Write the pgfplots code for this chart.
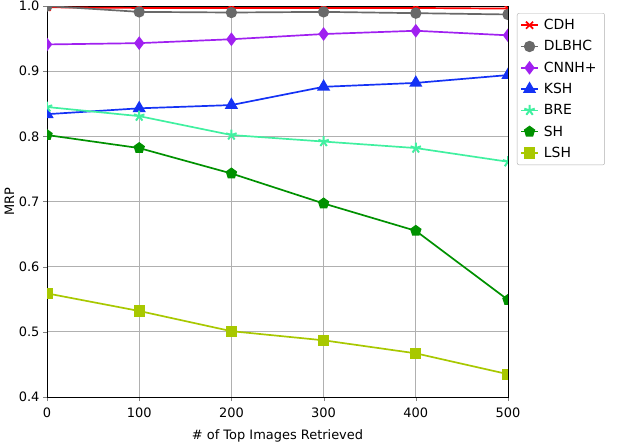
\documentclass[border=0pt]{standalone}
\usepackage{fontspec}
\setmainfont{DejaVu Sans}
\usepackage{pgfplots}
\pgfplotsset{compat=1.18}
\definecolor{cdh}{RGB}{255,0,0}
\definecolor{dlbhc}{RGB}{105,105,105}
\definecolor{cnnh}{RGB}{160,32,240}
\definecolor{ksh}{RGB}{20,50,245}
\definecolor{bre}{RGB}{64,240,160}
\definecolor{sh}{RGB}{0,145,0}
\definecolor{lsh}{RGB}{168,200,0}
\definecolor{gridc}{RGB}{176,176,176}
\begin{document}
\begin{tikzpicture}
\useasboundingbox (0,0) rectangle (629bp,444bp);
\begin{axis}[
  at={(47bp,47bp)}, anchor=south west,
  scale only axis, width=461bp, height=391bp,
  xmin=0, xmax=500, ymin=0.4, ymax=1.0,
  xtick={0,100,200,300,400,500},
  ytick={0.4,0.5,0.6,0.7,0.8,0.9,1.0},
  yticklabel style={/pgf/number format/fixed,/pgf/number format/fixed zerofill,/pgf/number format/precision=1},
  xticklabel style={yshift=-3bp},
  /pgf/number format/assume math mode=true,
  font=\fontsize{13}{15}\selectfont,
  grid=major, major grid style={gridc, line width=0.8pt},
  tick align=outside, tick pos=left, major tick length=4bp,
  axis line style={line width=0.9pt},
  xlabel={\# of Top Images Retrieved}, ylabel={MRP},
  xlabel style={yshift=-6bp}, ylabel style={yshift=-2bp},
  clip marker paths=true,
  every axis plot/.append style={line width=1.7pt, mark size=4.8bp, mark options={solid}},
  legend style={at={(1.0195,0.982)}, anchor=north west, draw=gridc, rounded corners=2pt,
    font=\fontsize{14}{16}\selectfont, row sep=5.5bp, inner xsep=3bp, inner ysep=4bp,
    nodes={inner xsep=5bp}},
  legend cell align=left,
]
\addplot[cdh, mark=x, mark size=5bp] coordinates {(0,0.998)(100,0.997)(200,0.997)(300,0.997)(400,0.997)(500,0.996)};
\addlegendentry{CDH}
\addplot[dlbhc, mark=*] coordinates {(0,1.0)(100,0.991)(200,0.990)(300,0.991)(400,0.989)(500,0.987)};
\addlegendentry{DLBHC}
\addplot[cnnh, mark=diamond*, mark size=5.5bp] coordinates {(0,0.941)(100,0.943)(200,0.949)(300,0.957)(400,0.962)(500,0.955)};
\addlegendentry{CNNH+}
\addplot[ksh, mark=triangle*, mark size=6bp] coordinates {(0,0.834)(100,0.843)(200,0.848)(300,0.876)(400,0.882)(500,0.894)};
\addlegendentry{KSH}
\addplot[bre, mark=star, mark size=5.5bp, mark options={line width=2pt}] coordinates {(0,0.845)(100,0.831)(200,0.802)(300,0.792)(400,0.782)(500,0.761)};
\addlegendentry{BRE}
\addplot[sh, mark=pentagon*, mark size=5bp] coordinates {(0,0.802)(100,0.782)(200,0.743)(300,0.697)(400,0.655)(500,0.549)};
\addlegendentry{SH}
\addplot[lsh, mark=square*] coordinates {(0,0.559)(100,0.532)(200,0.501)(300,0.487)(400,0.467)(500,0.435)};
\addlegendentry{LSH}
\end{axis}
\end{tikzpicture}
\end{document}
